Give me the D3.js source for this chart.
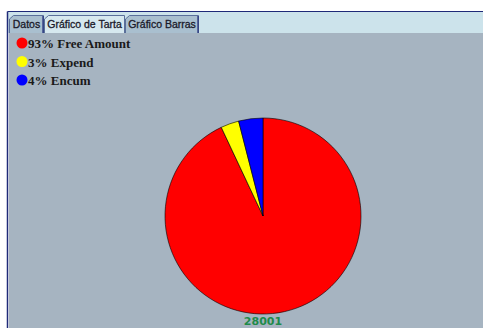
<!DOCTYPE html>
<html>
<head>
<meta charset="utf-8">
<script src="https://cdn.jsdelivr.net/npm/d3@7"></script>
<style>
  html, body { margin: 0; padding: 0; background: #fff; }
  svg { display: block; }
</style>
</head>
<body>
<div id="viz"></div>
<script>
'use strict';

// tabs across the top
const tabNames = ['Datos', 'Gráfico de Tarta', 'Gráfico Barras'];
const tabWidths = [35, 81, 74];
const activeTab = 1;

// pie data
const categories = ['Free Amount', 'Expend', 'Encum'];
const percents = [93, 3, 4];
const colors = ['#ff0000', '#ffff00', '#0000ff'];
const totalLabel = '28001';

const W = 483, H = 328;

const svg = d3.select('#viz')
  .append('svg')
    .attr('width', W)
    .attr('height', H);

// frame
svg.append('rect')
  .attr('x', 8).attr('y', 12)
  .attr('width', W - 8).attr('height', 21)
  .attr('fill', '#cce3eb');

svg.append('rect')
  .attr('x', 9).attr('y', 33)
  .attr('width', W - 9).attr('height', H - 33)
  .attr('fill', '#a6b4c1');

svg.append('line')
  .attr('x1', 7.5).attr('y1', 11.5).attr('x2', W).attr('y2', 11.5)
  .attr('stroke', '#1f2a78').attr('stroke-width', 1);
svg.append('line')
  .attr('x1', 7.5).attr('y1', 11.5).attr('x2', 7.5).attr('y2', H)
  .attr('stroke', '#1f2a78').attr('stroke-width', 1.5);

// tabs
let tx = 9;
tabNames.forEach((name, i) => {
  const w = tabWidths[i];
  const g = svg.append('g').attr('transform', `translate(${tx},0)`);
  const top = 15, bot = 33;
  g.append('path')
    .attr('d', `M0.5,${bot} L0.5,${top + 4} L4.5,${top + 0.5} L${w - 0.5},${top + 0.5} L${w - 0.5},${bot}`)
    .attr('fill', i === activeTab ? '#d6e8ef' : '#a9bfcf')
    .attr('stroke', '#5a6f9a')
    .attr('stroke-width', 1);
  if (i !== activeTab) {
    g.append('line')
      .attr('x1', w - 1).attr('y1', top + 1).attr('x2', w - 1).attr('y2', bot)
      .attr('stroke', '#1f2a78').attr('stroke-width', 1.2);
  }
  g.append('text')
    .attr('x', w / 2).attr('y', 28)
    .attr('text-anchor', 'middle')
    .style('font-family', 'Liberation Sans, Arial, sans-serif')
    .style('font-size', '10.5px')
    .attr('fill', '#1a1a2a')
    .attr('stroke', '#1a1a2a')
    .attr('stroke-width', 0.3)
    .text(name);
  tx += w;
});

// legend
const legend = svg.append('g').attr('transform', 'translate(22,43)');
categories.forEach((c, i) => {
  const row = legend.append('g').attr('transform', `translate(0,${i * 18.5})`);
  row.append('circle')
    .attr('r', 5.5)
    .attr('fill', colors[i]);
  row.append('text')
    .attr('x', 6).attr('y', 5)
    .style('font-family', 'Liberation Serif, Times New Roman, serif')
    .style('font-size', '13px')
    .style('font-weight', 'bold')
    .attr('fill', '#1a1a1a')
    .text(`${percents[i]}% ${c}`);
});

// pie
const cx = 263, cy = 216, r = 98;
const pie = d3.pie().sort(null).value(d => d);
const arc = d3.arc().innerRadius(0).outerRadius(r);

svg.append('g')
  .attr('transform', `translate(${cx},${cy})`)
  .selectAll('path')
  .data(pie(percents))
  .join('path')
    .attr('d', arc)
    .attr('fill', (d, i) => colors[i])
    .attr('stroke', '#000')
    .attr('stroke-width', 0.6);

svg.append('text')
  .attr('x', cx).attr('y', 325)
  .attr('text-anchor', 'middle')
  .style('font-family', 'DejaVu Sans, sans-serif')
  .style('font-size', '11px')
  .style('font-weight', 'bold')
  .attr('fill', '#1e8a4a')
  .text(totalLabel);
</script>
</body>
</html>
